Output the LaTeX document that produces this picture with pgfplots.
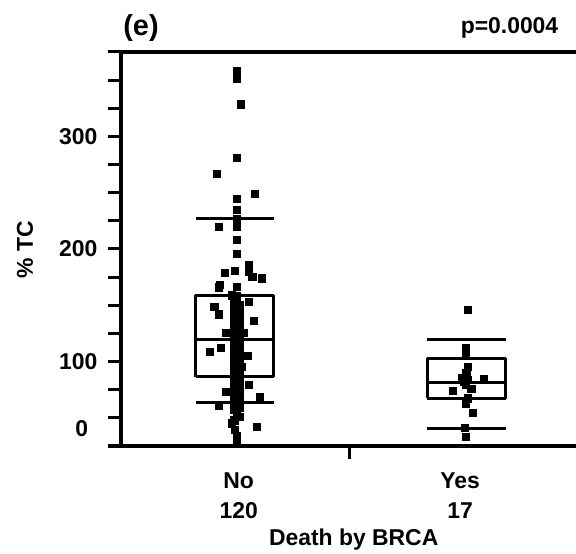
\documentclass[border=0pt]{standalone}
\usepackage{fontspec}
\setmainfont{Liberation Sans}
\usepackage{pgfplots}
\pgfplotsset{compat=1.18}

\newcommand{\lab}{\fontsize{23}{29.4}\selectfont\bfseries}

\begin{document}
\begin{tikzpicture}
\begin{axis}[
    scale only axis,
    width=465bp, height=394bp,
    xmin=0.5, xmax=2.534,
    ymin=25, ymax=375,
    axis line style={line width=3.5bp},
    tick align=outside,
    xtick pos=left, ytick pos=left,
    xtick={1.5}, xticklabels={},
    ytick={25,50,...,375},
    yticklabels={,,,100,,,,200,,,,300,,,},
    major tick length=13bp,
    every tick/.style={line width=3bp, black},
    yticklabel style={font=\lab, xshift=-7bp},
    /pgf/number format/assume math mode=true,
    clip=false,
]

% death by BRCA = No (n=120)
\addplot[only marks, mark=square*, mark size=3.6bp, mark options={fill=black, draw=black, line width=0.4pt}] coordinates {
    (1.006,358) (1.006,351.5) (1.025,328.7)
    (1.006,281.4) (0.919,267.2) (1.086,249.4) (1.006,245) (1.006,234.6)
    (1.006,227.2) (0.929,219.8) (1.006,219.8) (1.006,208.6) (1.006,195.5)
    (1.057,185.7) (1.057,180) (0.999,180.7) (0.955,179.3) (1.074,175.4)
    (1.115,174) (0.933,168) (0.926,166) (1.006,166.5) (0.984,159) (1.006,158.5)
    (1.006,154.7) (1.057,153.2) (0.908,148.7) (0.929,142) (1.006,144.3)
    (1.006,135.4) (1.079,136) (0.958,126) (1.035,126) (0.937,112.3)
    (0.889,108.7) (1.054,105.2) (1.028,95.4) (1.057,79.2) (0.958,73.2)
    (1.108,68.8) (0.926,60.8) (1.006,55.5) (0.984,45.2) (1.094,42.1)
    (0.999,39.2) (1.006,29.4)
    (0.995,155) (1.006,152) (1.017,150) (0.995,148) (1.006,146)
    (1.017,144) (0.995,141) (1.006,139) (1.017,137) (0.995,135)
    (1.006,133) (1.017,131) (0.995,129) (1.006,128) (1.017,127)
    (0.995,126) (1.006,125) (1.017,124) (0.995,123) (1.006,122)
    (1.017,121) (0.995,120) (1.006,119) (1.017,118) (0.995,117)
    (1.006,116) (1.017,115) (0.995,114) (1.006,113) (1.017,112)
    (0.995,111) (1.006,110) (1.017,109) (0.995,108) (1.006,107)
    (1.017,106) (0.995,105) (1.006,104) (1.017,103) (0.995,102)
    (1.006,101) (1.017,100) (0.995,99) (1.006,98) (1.017,97)
    (0.995,96) (1.006,94) (1.017,93) (0.995,91) (1.006,90)
    (1.017,89) (0.995,88) (1.006,86) (1.017,85) (0.995,84)
    (1.006,83) (1.017,81) (0.995,80) (1.006,78) (1.017,77)
    (0.995,75) (1.006,74) (1.017,72) (0.995,70) (1.006,68)
    (1.017,66) (0.995,64) (1.006,62) (1.017,59) (0.995,57)
    (1.006,54) (1.017,51) (0.995,48) (1.006,34)
};

% death by BRCA = Yes (n=17)
\addplot[only marks, mark=square*, mark size=3.6bp, mark options={fill=black, draw=black, line width=0.4pt}] coordinates {
    (2.017,145.8) (2.007,112) (2.007,107) (2.017,95.4) (1.992,86)
    (2.015,84.2) (2.088,85.1) (2.007,79.2) (2.032,75.6) (1.951,74.1)
    (2.015,67.4) (2.007,62.9) (2.040,54.9) (2.003,41.3) (2.007,33.3)
    (2.000,82) (2.010,90)
};

% boxes, medians and whiskers
\addplot[line width=3bp, line join=round] coordinates {(0.828,86.5) (1.169,86.5) (1.169,159.1) (0.828,159.1) (0.828,86.5)};
\addplot[line width=3bp] coordinates {(0.828,120) (1.169,120)};
\addplot[line width=3.5bp] coordinates {(0.828,226.9) (1.169,226.9)};
\addplot[line width=3.5bp] coordinates {(0.828,63.8) (1.169,63.8)};

\addplot[line width=3bp, line join=round] coordinates {(1.839,67.4) (2.184,67.4) (2.184,102.9) (1.839,102.9) (1.839,67.4)};
\addplot[line width=3bp] coordinates {(1.839,81.2) (2.184,81.2)};
\addplot[line width=3.5bp] coordinates {(1.839,119.8) (2.184,119.8)};
\addplot[line width=3.5bp] coordinates {(1.839,40.7) (2.184,40.7)};

\end{axis}

\node[font=\lab, anchor=base east, inner sep=0pt] at (-32.7bp,9.3bp) {0};
\node[font=\lab, rotate=90] at (-96bp,196bp) {\% TC};
\node[font=\lab, align=center, anchor=north, inner sep=0pt] at (117.7bp,-27bp) {No\\120};
\node[font=\lab, align=center, anchor=north, inner sep=0pt] at (339bp,-27bp) {Yes\\17};
\node[font=\lab, anchor=north, inner sep=0pt] at (232.7bp,-83bp) {Death by BRCA};
\node[font=\fontsize{29}{33}\selectfont\bfseries, anchor=base, inner sep=0pt] at (20bp,410bp) {(e)};
\node[font=\lab, anchor=base, inner sep=0pt] at (388.5bp,412bp) {p=0.0004};

\pgfresetboundingbox
\path[use as bounding box] (-121bp,-108bp) rectangle (455bp,446bp);
\end{tikzpicture}
\end{document}
